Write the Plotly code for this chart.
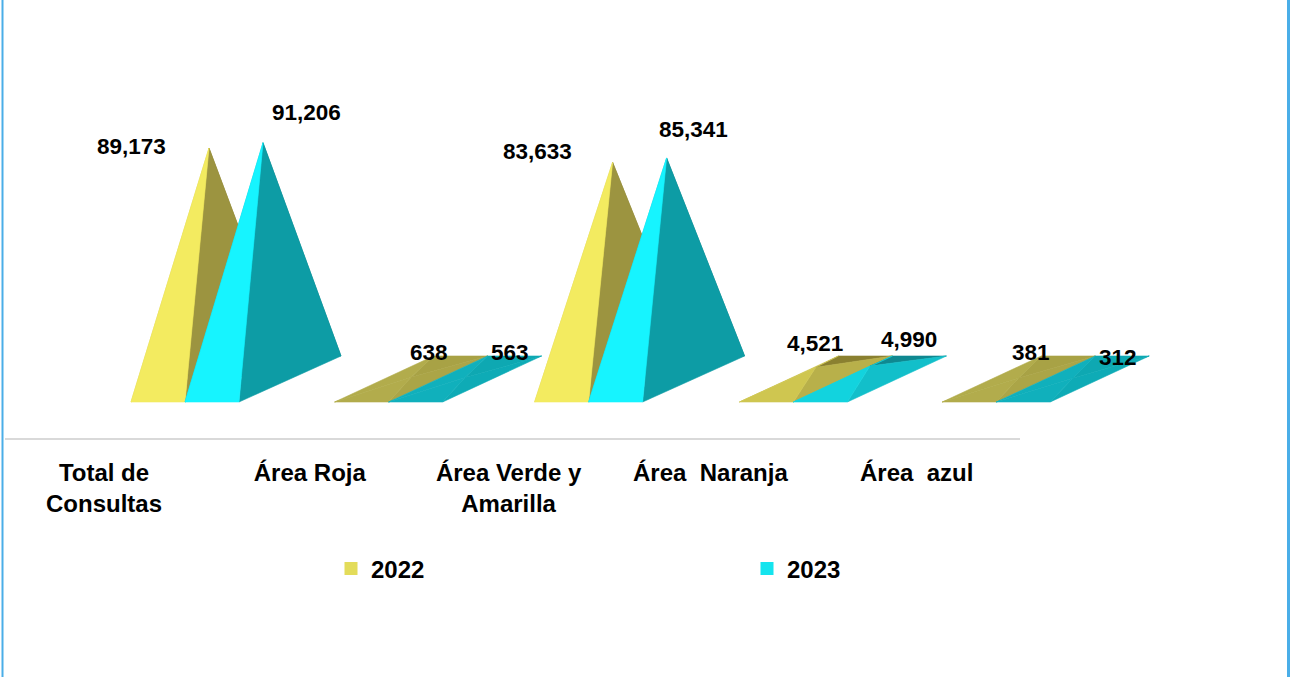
import plotly.graph_objects as go

# ---- data ----
tick_labels = ["Total de<br>Consultas", "Área Roja", "Área Verde y<br>Amarilla",
               "Área\u00a0 Naranja", "Área\u00a0 azul"]
series_names = ["2022", "2023"]
values_2022 = [89173, 638, 83633, 4521, 381]
values_2023 = [91206, 563, 85341, 4990, 312]

# ---- layout constants ----
W, H = 1291, 677
FONT = "Liberation Sans, Arial, sans-serif"
CAT = 202.8           # px per category
X0 = 104              # px of category 0
PX_PER_UNIT = 2.59 / 1000
Y0 = 379              # px of value 0 (centre of pyramid base)
AXIS_Y = 438
W_CAT = 54 / CAT
DX_PX = {"tall": 102, "mid": 99, "flat": 99}
DY = 46 / PX_PER_UNIT
SERIES_OFFSET = {"2022": 27 / CAT, "2023": 81 / CAT}
CAT_NUDGE = [0, 0.8 / CAT, -2 / CAT, 0, 0]
TICK_NUDGE = [0, 3 / CAT, -1 / CAT, -2 / CAT, 1.5 / CAT]

SHADES = {
    "2022": {
        "tall": dict(back="#8A8030", left="#D8D055", right="#9C9440", front="#F3EB60"),
        "mid": dict(back="#8A8030", left="#CFC650", right="#B8B04A", front="#CFC650"),
        "flat": dict(back="#A8A245", left="#B2AC4C", right="#ABA547", front="#B2AC4C"),
    },
    "2023": {
        "tall": dict(back="#0C7F86", left="#12C8D2", right="#0D9CA5", front="#16F4FF"),
        "mid": dict(back="#0F8890", left="#12D3DE", right="#12BFCA", front="#12D3DE"),
        "flat": dict(back="#0EA8B2", left="#10B0BC", right="#0EABB6", front="#10B0BC"),
    },
}
LEGEND_COLORS = {"2022": "#E3DC5A", "2023": "#14E4EE"}
# label offsets from pyramid apex, px (right, up)
LABEL_SHIFT = {
    "2022": [(-78, 2), (18, 25), (-75, 11), (-1, 24), (12, 26)],
    "2023": [(43, 30), (45, 25), (27, 28), (39, 27), (45, 21)],
}


def tier(v):
    return "tall" if v > 20000 else ("mid" if v > 2000 else "flat")


fig = go.Figure()
annotations = []

for name, vals in zip(series_names, [values_2022, values_2023]):
    for i, v in enumerate(vals):
        t = tier(v)
        dx = DX_PX[t] / CAT
        fl = i + SERIES_OFFSET[name] + CAT_NUDGE[i]
        fr = fl + W_CAT
        bl, br = fl + dx, fr + dx
        yf, yb = -DY / 2, DY / 2
        ax = fl + W_CAT / 2 + dx / 2
        faces = {
            "back": ([bl, br, ax, bl], [yb, yb, v, yb]),
            "left": ([fl, bl, ax, fl], [yf, yb, v, yf]),
            "right": ([fr, br, ax, fr], [yf, yb, v, yf]),
            "front": ([fl, fr, ax, fl], [yf, yf, v, yf]),
        }
        shades = SHADES[name][t]
        for face in ["back", "left", "right", "front"]:
            xs, ys = faces[face]
            fig.add_trace(go.Scatter(
                x=xs, y=ys, xaxis="x2", yaxis="y", mode="lines", fill="toself",
                fillcolor=shades[face], line=dict(width=0.6, color=shades[face]),
                showlegend=False, name=name, hoverinfo="skip",
            ))
        sx, sy = LABEL_SHIFT[name][i]
        annotations.append(dict(
            x=ax, y=v, xref="x2", yref="y", xshift=sx, yshift=sy,
            text=f"{v:,}", showarrow=False, xanchor="center", yanchor="middle",
            font=dict(family=FONT, size=22.5, color="#000000", weight="bold"),
        ))

# category axis carrier + legend entries
fig.add_trace(go.Scatter(
    x=list(range(5)), y=[0] * 5, xaxis="x", yaxis="y2", mode="markers",
    marker=dict(opacity=0), showlegend=False, hoverinfo="skip",
))
for name in series_names:
    fig.add_trace(go.Scatter(
        x=[None], y=[None], xaxis="x", yaxis="y2", mode="markers", name=name,
        marker=dict(symbol="square", size=13, color=LEGEND_COLORS[name]),
    ))

fig.update_layout(
    width=W, height=H, autosize=False,
    margin=dict(l=0, r=0, t=0, b=0, pad=0),
    paper_bgcolor="white", plot_bgcolor="rgba(0,0,0,0)",
    annotations=annotations,
    xaxis=dict(
        type="linear",
        domain=[5 / W, 1020 / W],
        range=[(5 - X0) / CAT, (1020 - X0) / CAT],
        anchor="y2",
        tickmode="array", tickvals=[i + n for i, n in enumerate(TICK_NUDGE)], ticktext=tick_labels,
        ticks="outside", ticklen=12, tickcolor="rgba(0,0,0,0)",
        tickfont=dict(family=FONT, size=24, color="#000000", weight="bold"),
        tickangle=0,
        showline=True, linecolor="#D9D9D9", linewidth=2,
        showgrid=False, zeroline=False, fixedrange=True,
    ),
    xaxis2=dict(
        type="linear",
        domain=[0, 1], range=[-X0 / CAT, (W - X0) / CAT], anchor="y",
        visible=False, showgrid=False, zeroline=False, fixedrange=True,
    ),
    yaxis=dict(
        domain=[0, 1], range=[(Y0 - H) / PX_PER_UNIT, Y0 / PX_PER_UNIT], anchor="x2",
        visible=False, showgrid=False, zeroline=False, fixedrange=True,
    ),
    yaxis2=dict(
        domain=[(H - AXIS_Y) / H, 1], range=[0, 1], anchor="x",
        visible=False, showgrid=False, zeroline=False, fixedrange=True,
    ),
    legend=dict(
        orientation="h", x=331 / W, y=(H - 569) / H, xanchor="left", yanchor="middle",
        entrywidth=371, entrywidthmode="pixels", bgcolor="rgba(0,0,0,0)",
        font=dict(family=FONT, size=24, color="#000000", weight="bold"),
    ),
    shapes=[
        dict(type="line", xref="paper", yref="paper", x0=2.5 / W, x1=2.5 / W, y0=0, y1=1,
             line=dict(color="#4AAEE8", width=2)),
        dict(type="line", xref="paper", yref="paper", x0=1288.5 / W, x1=1288.5 / W, y0=0, y1=1,
             line=dict(color="#4AAEE8", width=3)),
    ],
)

fig.write_html("out.html", config={"displayModeBar": False},
               post_script="document.body.style.margin='0';document.body.style.overflow='hidden';")
